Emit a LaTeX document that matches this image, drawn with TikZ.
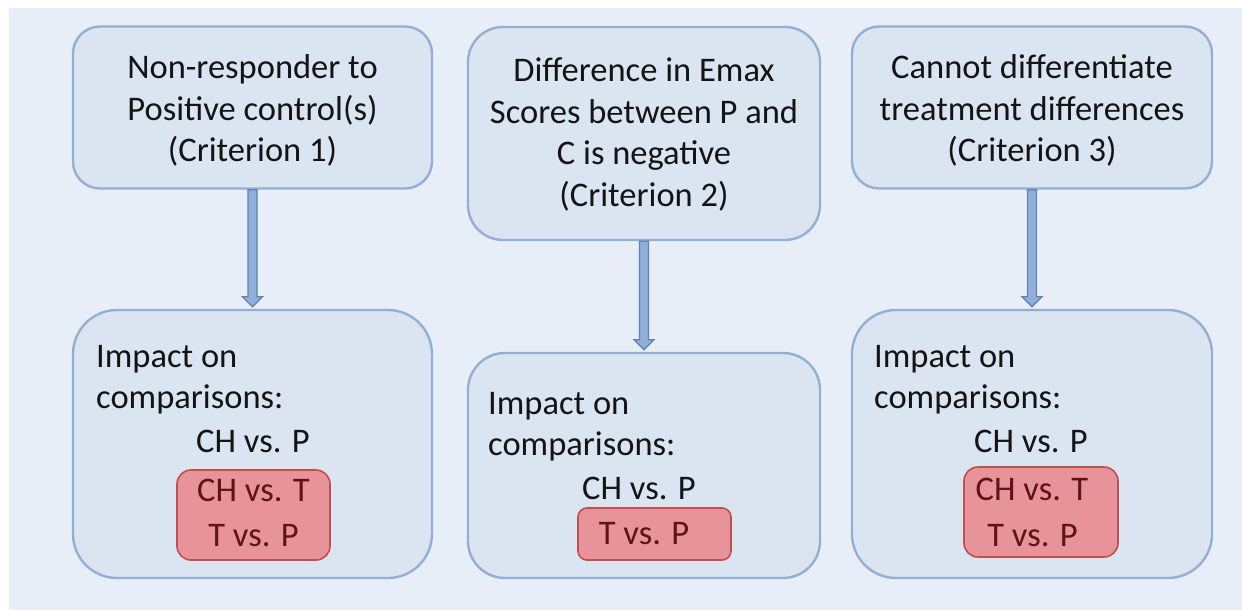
\documentclass[tikz,border=0pt]{standalone}
\usepackage{fontspec}
\setmainfont{Carlito}
\usetikzlibrary{calc}
\definecolor{bgcol}{HTML}{E8EEF7}
\definecolor{boxfill}{HTML}{DBE5F1}
\definecolor{boxline}{HTML}{92B0D6}
\definecolor{arrfill}{HTML}{8FAEDA}
\definecolor{arrline}{HTML}{5F82B4}
\definecolor{redfill}{HTML}{E8939A}
\definecolor{redline}{HTML}{C0504D}
\definecolor{redtext}{HTML}{5C1414}
\definecolor{txt}{HTML}{141414}
\tikzset{
  box/.style={draw=boxline, fill=boxfill, line width=2.4pt, inner sep=0pt},
  redbox/.style={draw=redline, fill=redfill, line width=1.6pt, inner sep=0pt},
  lbl/.style={text=txt, inner sep=0pt, font=\fontsize{34.5}{41.5}\selectfont},
  redlbl/.style={text=redtext, inner sep=0pt, font=\fontsize{34.5}{41.5}\selectfont},
  arrowbody/.style={draw=arrline, fill=arrfill, line width=1.2pt, line join=miter},
}
\begin{document}
\begin{tikzpicture}[x=1pt,y=-1pt]
\useasboundingbox (0,0) rectangle (1242,610);
\fill[white] (0,0) rectangle (1242,610);
\fill[bgcol] (9,8) rectangle (1242,610);

% top boxes
\node[box, rounded corners=27pt, minimum width=359pt, minimum height=162pt] (t1) at (252.5,107.5) {};
\node[box, rounded corners=35pt, minimum width=352pt, minimum height=213pt] (t2) at (644,133.5) {};
\node[box, rounded corners=27pt, minimum width=360pt, minimum height=162pt] (t3) at (1032,107.5) {};

\node[lbl, align=center] (t1text) at ($(t1.center)+(0,3)$) {Non-responder to\\Positive control(s)\\(Criterion 1)};
\node[lbl, align=center] (t2text) at ($(t2.center)+(0,1)$) {Difference in Emax\\Scores between P and\\C is negative\\(Criterion 2)};
\node[lbl, align=center] (t3text) at ($(t3.center)+(0,3)$) {Cannot differentiate\\treatment differences\\(Criterion 3)};

% bottom boxes
\node[box, rounded corners=44pt, minimum width=359pt, minimum height=268pt] (b1) at (252.5,444) {};
\node[box, rounded corners=37pt, minimum width=352pt, minimum height=225pt] (b2) at (644,465.5) {};
\node[box, rounded corners=44pt, minimum width=360pt, minimum height=268pt] (b3) at (1032,444) {};

% arrows
\foreach \a/\b in {t1/b1, t2/b2, t3/b3}{
  \draw[arrowbody] ($(\a.south)+(-4.5,0)$) -- ($(\b.north)+(-4.5,-12)$) -- ++(-5.5,0)
    -- ($(\b.north)+(0,-2)$) -- ($(\b.north)+(10,-12)$) -- ++(-5.5,0)
    -- ($(\a.south)+(4.5,0)$) -- cycle;
}

% bottom-left content
\node[lbl, anchor=base west] (l1a) at (96,367) {Impact on};
\node[lbl, anchor=base west] (l1b) at (96,408) {comparisons:};
\node[lbl, anchor=base] (l1c) at (253,452) {CH vs. P};
\node[redbox, rounded corners=14pt, minimum width=153pt, minimum height=90pt] (r1) at (253.5,515) {};
\node[redlbl, anchor=base] (r1a) at (253.5,501) {CH vs. T};
\node[redlbl, anchor=base] (r1b) at (253.5,546) {T vs. P};

% bottom-middle content
\node[lbl, anchor=base west] (l2a) at (488,414) {Impact on};
\node[lbl, anchor=base west] (l2b) at (488,455) {comparisons:};
\node[lbl, anchor=base] (l2c) at (639,499) {CH vs. P};
\node[redbox, rounded corners=9pt, minimum width=153pt, minimum height=52pt] (r2) at (654.5,534) {};
\node[redlbl, anchor=base] (r2a) at (644,544) {T vs. P};

% bottom-right content
\node[lbl, anchor=base west] (l3a) at (874,367) {Impact on};
\node[lbl, anchor=base west] (l3b) at (874,408) {comparisons:};
\node[lbl, anchor=base] (l3c) at (1031,452) {CH vs. P};
\node[redbox, rounded corners=14pt, minimum width=154pt, minimum height=90pt] (r3) at (1041,512) {};
\node[redlbl, anchor=base] (r3a) at (1032,500) {CH vs. T};
\node[redlbl, anchor=base] (r3b) at (1032.5,546) {T vs. P};
\end{tikzpicture}
\end{document}
